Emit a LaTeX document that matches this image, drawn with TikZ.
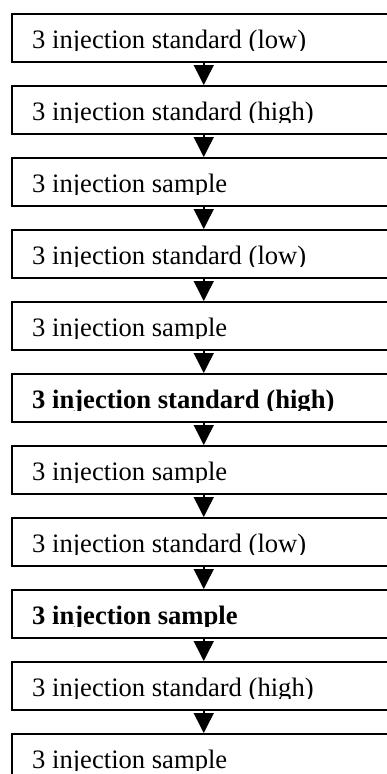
\documentclass[tikz,border=0pt]{standalone}
\usepackage{fontspec}
\setmainfont{Liberation Serif}
\usepackage{tikz}
\usetikzlibrary{calc,positioning,arrows.meta}

\tikzset{
  stepbox/.style={draw,line width=1.5pt,minimum width=384pt,minimum height=48pt,inner sep=0pt,anchor=north west},
  steptext/.style={anchor=base west,inner sep=0pt,font=\fontsize{26.6}{30}\selectfont},
  flow/.style={line width=1.5pt,-{Triangle[width=20pt,length=20pt]}}
}

\begin{document}
\begin{tikzpicture}[x=1pt,y=1pt]
  \useasboundingbox (0,0) rectangle (387,-774);
  \clip (0,0) rectangle (387,-774);
  \foreach \txt/\wt [count=\i] in {
      3 injection standard (low)/\mdseries,
      3 injection standard (high)/\mdseries,
      3 injection sample/\mdseries,
      3 injection standard (low)/\mdseries,
      3 injection sample/\mdseries,
      3 injection standard (high)/\bfseries,
      3 injection sample/\mdseries,
      3 injection standard (low)/\mdseries,
      3 injection sample/\bfseries,
      3 injection standard (high)/\mdseries,
      3 injection sample/\mdseries}
  {
    \node (b\i) [stepbox] at (11,{-13-72*(\i-1)}) {};
    \begin{scope}
      % text is cut just under its baseline
      \clip ($(b\i.north west)+(0,-1)$) rectangle ($(b\i.north east)+(0,-37.8)$);
      \node (t\i) [steptext] at ($(b\i.north west)+(21,-35.8)$) {\wt\txt};
    \end{scope}
  }
  \foreach \i [evaluate=\i as \j using int(\i+1)] in {1,...,10}
    \draw[flow] (b\i.south) -- (b\j.north);
\end{tikzpicture}
\end{document}
